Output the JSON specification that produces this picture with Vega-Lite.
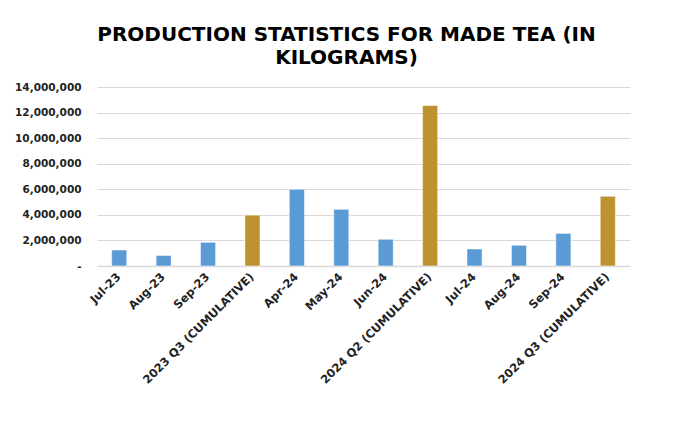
{
  "$schema": "https://vega.github.io/schema/vega-lite/v6.json",
  "autosize": {"type": "none"},
  "width": 533,
  "height": 179,
  "padding": {"left": 97, "top": 87, "right": 50, "bottom": 180},
  "background": "white",
  "title": {
    "text": ["PRODUCTION STATISTICS FOR MADE TEA (IN", "KILOGRAMS)"],
    "font": "DejaVu Sans",
    "fontSize": 20,
    "fontWeight": "bold",
    "color": "#000000",
    "anchor": "middle",
    "dx": -17,
    "offset": 14,
    "lineHeight": 23
  },
  "data": {
    "values": [
      {"period": "Jul-23", "kg": 1250000, "kind": "Monthly"},
      {"period": "Aug-23", "kg": 830000, "kind": "Monthly"},
      {"period": "Sep-23", "kg": 1850000, "kind": "Monthly"},
      {"period": "2023 Q3 (CUMULATIVE)", "kg": 3980000, "kind": "Cumulative"},
      {"period": "Apr-24", "kg": 6000000, "kind": "Monthly"},
      {"period": "May-24", "kg": 4430000, "kind": "Monthly"},
      {"period": "Jun-24", "kg": 2090000, "kind": "Monthly"},
      {"period": "2024 Q2 (CUMULATIVE)", "kg": 12550000, "kind": "Cumulative"},
      {"period": "Jul-24", "kg": 1330000, "kind": "Monthly"},
      {"period": "Aug-24", "kg": 1620000, "kind": "Monthly"},
      {"period": "Sep-24", "kg": 2550000, "kind": "Monthly"},
      {"period": "2024 Q3 (CUMULATIVE)", "kg": 5450000, "kind": "Cumulative"}
    ]
  },
  "mark": {"type": "bar", "stroke": "#ffffff", "strokeOpacity": 0.5, "strokeWidth": 1},
  "encoding": {
    "x": {
      "field": "period",
      "type": "nominal",
      "sort": null,
      "scale": {"paddingInner": 0.66, "paddingOuter": 0.33},
      "axis": {
        "title": null,
        "labelAngle": -45,
        "labelAlign": "right",
        "labelBaseline": "middle",
        "labelFont": "DejaVu Sans",
        "labelFontSize": 11.5,
        "labelFontWeight": "bold",
        "labelColor": "#222222",
        "labelPadding": 9,
        "ticks": false,
        "domainColor": "#D9D9D9",
        "domainWidth": 1.5,
        "labelLimit": 0
      }
    },
    "y": {
      "field": "kg",
      "type": "quantitative",
      "scale": {"domain": [0, 14000000]},
      "axis": {
        "title": null,
        "values": [0, 2000000, 4000000, 6000000, 8000000, 10000000, 12000000, 14000000],
        "labelExpr": "datum.value == 0 ? '-' : format(datum.value, ',')",
        "labelFont": "DejaVu Sans",
        "labelFontSize": 10.5,
        "labelFontWeight": "bold",
        "labelColor": "#222222",
        "labelPadding": 16,
        "ticks": false,
        "domain": false,
        "gridColor": "#D9D9D9",
        "gridWidth": 1
      }
    },
    "color": {
      "field": "kind",
      "type": "nominal",
      "scale": {"domain": ["Monthly", "Cumulative"], "range": ["#5B9BD5", "#BF9230"]},
      "legend": null
    }
  },
  "config": {"view": {"stroke": null}}
}
